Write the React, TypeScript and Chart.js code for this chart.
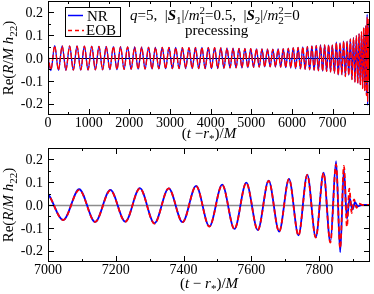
import React, { useEffect, useRef } from "react";
import { Chart, registerables } from "chart.js";

Chart.register(...registerables);

const SERIF = "'Liberation Serif', 'Times New Roman', Times, serif";

// ---------------- data (extrema of Re(R/M h22)) ----------------
const inspiralTimes = [
  0, 72, 165, 257, 349, 441, 532, 623, 714, 805,
  895, 985, 1075, 1165, 1254, 1343, 1432, 1520, 1608, 1696,
  1784, 1871, 1958, 2045, 2131, 2217, 2303, 2388, 2473, 2558,
  2642, 2726, 2810, 2893, 2976, 3059, 3141, 3223, 3305, 3386,
  3467, 3547, 3627, 3707, 3786, 3865, 3943, 4021, 4098, 4175,
  4251, 4327, 4402, 4477, 4551, 4625, 4698, 4771, 4843, 4915,
  4986, 5056, 5126, 5195, 5263, 5331, 5398, 5464, 5530, 5595,
  5659, 5723, 5786, 5848, 5910, 5971, 6032, 6092, 6151, 6209,
  6267, 6324, 6380, 6436, 6491, 6545, 6598, 6651, 6703, 6754,
  6804, 6853, 6902, 6950, 6992, 7045, 7092, 7139, 7184, 7228,
  7271, 7314, 7356, 7397, 7437, 7476, 7514, 7550, 7585, 7619,
  7651, 7682, 7711, 7739, 7765, 7790, 7813, 7833, 7850, 7862,
  7873,
];

const nrInspiral = [
  0.0, -0.055, 0.054, -0.054, 0.053, -0.054, 0.053, -0.053, 0.053, -0.053,
  0.052, -0.053, 0.052, -0.052, 0.051, -0.052, 0.051, -0.051, 0.05, -0.051,
  0.05, -0.05, 0.049, -0.05, 0.049, -0.049, 0.048, -0.049, 0.048, -0.048,
  0.047, -0.048, 0.047, -0.047, 0.046, -0.047, 0.046, -0.046, 0.045, -0.046,
  0.045, -0.046, 0.046, -0.047, 0.046, -0.047, 0.046, -0.046, 0.045, -0.046,
  0.044, -0.045, 0.043, -0.044, 0.043, -0.043, 0.042, -0.043, 0.042, -0.042,
  0.041, -0.041, 0.04, -0.04, 0.04, -0.039, 0.039, -0.039, 0.039, -0.039,
  0.04, -0.04, 0.041, -0.042, 0.043, -0.044, 0.045, -0.046, 0.047, -0.048,
  0.049, -0.05, 0.051, -0.052, 0.053, -0.054, 0.055, -0.056, 0.057, -0.058,
  0.058, -0.06, 0.058, -0.062, 0.057, -0.066, 0.069, -0.074, 0.066, -0.073,
  0.074, -0.08, 0.073, -0.075, 0.084, -0.094, 0.089, -0.105, 0.098, -0.11,
  0.107, -0.117, 0.115, -0.133, 0.133, -0.142, 0.142, -0.163, 0.192, -0.208,
  0.155,
];

const eobInspiral = [
  0.015, -0.05, 0.053, -0.053, 0.053, -0.053, 0.052, -0.053, 0.052, -0.052,
  0.052, -0.052, 0.051, -0.052, 0.051, -0.051, 0.05, -0.051, 0.05, -0.05,
  0.049, -0.05, 0.049, -0.049, 0.048, -0.049, 0.048, -0.048, 0.047, -0.048,
  0.047, -0.047, 0.046, -0.047, 0.046, -0.046, 0.045, -0.046, 0.045, -0.045,
  0.045, -0.046, 0.045, -0.046, 0.046, -0.046, 0.045, -0.046, 0.045, -0.045,
  0.044, -0.044, 0.043, -0.043, 0.042, -0.043, 0.042, -0.042, 0.041, -0.042,
  0.041, -0.041, 0.04, -0.04, 0.039, -0.039, 0.039, -0.038, 0.038, -0.039,
  0.039, -0.04, 0.04, -0.041, 0.042, -0.043, 0.044, -0.045, 0.046, -0.047,
  0.048, -0.049, 0.05, -0.051, 0.052, -0.053, 0.054, -0.055, 0.056, -0.057,
  0.057, -0.059, 0.057, -0.061, 0.056, -0.066, 0.066, -0.074, 0.064, -0.073,
  0.073, -0.082, 0.073, -0.075, 0.083, -0.095, 0.088, -0.106, 0.097, -0.111,
  0.106, -0.117, 0.114, -0.134, 0.132, -0.143, 0.14, -0.165, 0.178, -0.19,
  0.172,
];

const nrRingdownTimes = [7882, 7890, 7898, 7906, 7914, 7924, 7950];
const nrRingdownValues = [-0.06, 0.03, -0.02, 0.012, -0.006, 0.0, 0.0];
const eobRingdownTimes = [7882, 7889, 7896, 7903, 7910, 7918, 7928, 7950];
const eobRingdownValues = [-0.095, 0.072, -0.035, 0.025, -0.012, 0.006, 0.0, 0.0];

const seriesNames = ["NR", "EOB"];
const topXMajor = [0, 1000, 2000, 3000, 4000, 5000, 6000, 7000];
const topXMinor = [500, 1500, 2500, 3500, 4500, 5500, 6500, 7500];
const bottomXMajor = [7000, 7200, 7400, 7600, 7800];
const bottomXMinor = [7100, 7300, 7500, 7700, 7900];
const yMajor = [-0.2, -0.1, 0, 0.1, 0.2];
const yMinor = [-0.15, -0.05, 0.05, 0.15];

// ---------------- helpers ----------------
type Pt = { x: number; y: number };
function toPoints(times: number[], vals: number[], rdT: number[], rdV: number[]): Pt[] {
  const pts: Pt[] = times.map((t, i) => ({ x: t, y: vals[i] }));
  rdT.forEach((t, i) => pts.push({ x: t, y: rdV[i] }));
  return pts;
}

type Run = { t: string; s?: string; p?: "sub" | "sup"; stack?: boolean };

function richText(
  ctx: CanvasRenderingContext2D,
  runs: Run[],
  x: number,
  y: number,
  size: number,
  draw: boolean
): number {
  let cx = x;
  let lastX = x;
  let lastW = 0;
  for (const r of runs) {
    const fs = r.p ? Math.round(size * 0.7) : size;
    ctx.font = `${r.s ? r.s + " " : ""}${fs}px ${SERIF}`;
    const w = ctx.measureText(r.t).width;
    const dy = r.p === "sub" ? size * 0.28 : r.p === "sup" ? -size * 0.38 : 0;
    if (r.stack) {
      if (draw) ctx.fillText(r.t, lastX, y + dy);
      if (w > lastW) {
        cx += w - lastW;
        lastW = w;
      }
    } else {
      if (draw) ctx.fillText(r.t, cx, y + dy);
      lastX = cx;
      lastW = w;
      cx += w;
    }
  }
  return cx - x;
}

const yTitleRuns: Run[] = [
  { t: "Re(" },
  { t: "R", s: "italic" },
  { t: "/" },
  { t: "M", s: "italic" },
  { t: " " },
  { t: "h", s: "italic" },
  { t: "22", p: "sub" },
  { t: ")" },
];
const xTitleTop: Run[] = [
  { t: "(" },
  { t: "t", s: "italic" },
  { t: " \u2212" },
  { t: "r", s: "italic" },
  { t: "*", p: "sub" },
  { t: ")/" },
  { t: "M", s: "italic" },
];
const xTitleBottom: Run[] = [
  { t: "(" },
  { t: "t", s: "italic" },
  { t: " \u2212 " },
  { t: "r", s: "italic" },
  { t: "*", p: "sub" },
  { t: ")/" },
  { t: "M", s: "italic" },
];
const annotationRuns: Run[] = [
  { t: "q", s: "italic" },
  { t: "=5,  |" },
  { t: "S", s: "italic bold" },
  { t: "1", p: "sub" },
  { t: "|/" },
  { t: "m", s: "italic" },
  { t: "1", p: "sub" },
  { t: "2", p: "sup", stack: true },
  { t: "=0.5,  |" },
  { t: "S", s: "italic bold" },
  { t: "2", p: "sub" },
  { t: "|/" },
  { t: "m", s: "italic" },
  { t: "2", p: "sub" },
  { t: "2", p: "sup", stack: true },
  { t: "=0" },
];

type PanelCfg = {
  xMin: number;
  xMax: number;
  xMajor: number[];
  xMinor: number[];
  padTop: number;
  axisH: number;
  zeroColor: string;
  zeroW: number;
  lineW: number;
  dash: number[];
  xTitle: Run[];
  xTitleY: number;
  yTitleX: number;
  extras: boolean;
};

function makePanel(canvas: HTMLCanvasElement, cfg: PanelCfg): Chart {
  const nr = toPoints(inspiralTimes, nrInspiral, nrRingdownTimes, nrRingdownValues);
  const eob = toPoints(inspiralTimes, eobInspiral, eobRingdownTimes, eobRingdownValues);

  const panelPlugin = {
    id: "panelDecor",
    beforeDatasetsDraw(chart: any) {
      const { ctx, chartArea: a, scales } = chart;
      const y0 = Math.round(scales.y.getPixelForValue(0)) + 0.5;
      ctx.save();
      ctx.strokeStyle = cfg.zeroColor;
      ctx.lineWidth = cfg.zeroW;
      ctx.beginPath();
      ctx.moveTo(a.left, y0);
      ctx.lineTo(a.right, y0);
      ctx.stroke();
      ctx.restore();
    },
    afterDraw(chart: any) {
      const { ctx, chartArea: a, scales } = chart;
      const xs = scales.x;
      const ys = scales.y;
      ctx.save();
      ctx.strokeStyle = "#000";
      ctx.lineWidth = 1;
      ctx.setLineDash([]);
      ctx.strokeRect(a.left + 0.5, a.top + 0.5, a.right - a.left - 1, a.bottom - a.top - 1);
      ctx.beginPath();
      const xt = (vals: number[], len: number) => {
        vals.forEach((v) => {
          if (v < cfg.xMin || v > cfg.xMax) return;
          const px = Math.round(xs.getPixelForValue(v)) + 0.5;
          ctx.moveTo(px, a.bottom);
          ctx.lineTo(px, a.bottom - len);
          ctx.moveTo(px, a.top);
          ctx.lineTo(px, a.top + len);
        });
      };
      const yt = (vals: number[], len: number) => {
        vals.forEach((v) => {
          const py = Math.round(ys.getPixelForValue(v)) + 0.5;
          ctx.moveTo(a.left, py);
          ctx.lineTo(a.left + len, py);
          ctx.moveTo(a.right, py);
          ctx.lineTo(a.right - len, py);
        });
      };
      xt(cfg.xMajor, 6);
      xt(cfg.xMinor, 3);
      yt(yMajor, 6);
      yt(yMinor, 3);
      ctx.stroke();

      ctx.fillStyle = "#000";
      ctx.textBaseline = "alphabetic";
      // tick labels
      ctx.font = `14px ${SERIF}`;
      ctx.textAlign = "center";
      cfg.xMajor.forEach((v) => {
        ctx.fillText(String(v), xs.getPixelForValue(v), a.bottom + 12);
      });
      ctx.textAlign = "right";
      yMajor.forEach((v) => {
        ctx.fillText(v.toFixed(1), a.left - 5, ys.getPixelForValue(v) + 4.7);
      });
      ctx.textAlign = "left";
      // x title
      const wx = richText(ctx, cfg.xTitle, 0, 0, 15, false);
      richText(ctx, cfg.xTitle, (a.left + a.right) / 2 - wx / 2, cfg.xTitleY, 15, true);
      // y title (rotated)
      const wy = richText(ctx, yTitleRuns, 0, 0, 15, false);
      ctx.save();
      ctx.translate(cfg.yTitleX, (a.top + a.bottom) / 2);
      ctx.rotate(-Math.PI / 2);
      richText(ctx, yTitleRuns, -wy / 2, 0, 15, true);
      ctx.restore();

      if (cfg.extras) {
        // legend
        ctx.fillStyle = "#fff";
        ctx.fillRect(65, 7, 56, 30);
        ctx.strokeStyle = "#000";
        ctx.lineWidth = 1;
        ctx.strokeRect(65.5, 7.5, 55, 29);
        ctx.lineWidth = 1.5;
        ctx.strokeStyle = "#0000ff";
        ctx.beginPath();
        ctx.moveTo(68, 15.5);
        ctx.lineTo(83, 15.5);
        ctx.stroke();
        ctx.strokeStyle = "#ff0000";
        ctx.setLineDash([4, 3]);
        ctx.beginPath();
        ctx.moveTo(68, 30.5);
        ctx.lineTo(84, 30.5);
        ctx.stroke();
        ctx.setLineDash([]);
        ctx.fillStyle = "#000";
        ctx.font = `15px ${SERIF}`;
        ctx.fillText(seriesNames[0], 87, 20.5);
        ctx.fillText(seriesNames[1], 86, 35);
        // annotation
        richText(ctx, annotationRuns, 130, 20, 15, true);
        ctx.font = `15px ${SERIF}`;
        ctx.fillText("precessing", 185, 35);
      }
      ctx.restore();
    },
  };

  const zeroPad = (s: any) => {
    s.paddingLeft = 0;
    s.paddingRight = 0;
    s.paddingTop = 0;
    s.paddingBottom = 0;
  };

  return new Chart(canvas, {
    type: "line",
    data: {
      datasets: [
        {
          label: seriesNames[0],
          data: nr,
          order: 2,
          borderColor: "#0000ff",
          borderWidth: cfg.lineW,
          pointRadius: 0,
          fill: false,
          cubicInterpolationMode: "monotone",
        },
        {
          label: seriesNames[1],
          data: eob,
          order: 1,
          borderColor: "#ff0000",
          borderWidth: cfg.lineW,
          borderDash: cfg.dash,
          pointRadius: 0,
          fill: false,
          cubicInterpolationMode: "monotone",
        },
      ],
    },
    options: {
      animation: false,
      responsive: false,
      maintainAspectRatio: false,
      events: [],
      layout: { padding: { top: cfg.padTop, right: 4, left: 0, bottom: 0 } },
      plugins: { legend: { display: false }, tooltip: { enabled: false }, title: { display: false } },
      elements: { point: { radius: 0 } },
      scales: {
        x: {
          type: "linear",
          min: cfg.xMin,
          max: cfg.xMax,
          grid: { display: false, drawTicks: false },
          border: { display: false },
          ticks: { display: false },
          afterFit: (s: any) => {
            s.height = cfg.axisH;
            zeroPad(s);
          },
        },
        y: {
          type: "linear",
          min: -0.25,
          max: 0.25,
          grid: { display: false, drawTicks: false },
          border: { display: false },
          ticks: { display: false },
          afterFit: (s: any) => {
            s.width = 48;
            zeroPad(s);
          },
        },
      },
    } as any,
    plugins: [panelPlugin],
  });
}

const topCfg: PanelCfg = {
  xMin: 0,
  xMax: 7920,
  xMajor: topXMajor,
  xMinor: topXMinor,
  padTop: 1,
  axisH: 31,
  zeroColor: "#000",
  zeroW: 1,
  lineW: 1.3,
  dash: [6, 2],
  xTitle: xTitleTop,
  xTitleY: 138,
  yTitleX: 13,
  extras: true,
};

const bottomCfg: PanelCfg = {
  xMin: 7000,
  xMax: 7950,
  xMajor: bottomXMajor,
  xMinor: bottomXMinor,
  padTop: 2,
  axisH: 32,
  zeroColor: "#8c8c8c",
  zeroW: 1.5,
  lineW: 1.8,
  dash: [5, 3],
  xTitle: xTitleBottom,
  xTitleY: 142,
  yTitleX: 13,
  extras: false,
};

export default function App() {
  const topRef = useRef<HTMLCanvasElement>(null);
  const botRef = useRef<HTMLCanvasElement>(null);
  useEffect(() => {
    const c1 = makePanel(topRef.current as HTMLCanvasElement, topCfg);
    const c2 = makePanel(botRef.current as HTMLCanvasElement, bottomCfg);
    return () => {
      c1.destroy();
      c2.destroy();
    };
  }, []);
  return (
    <div style={{ position: "absolute", left: 0, top: 0, width: 374, height: 294, background: "#fff" }}>
      <canvas ref={topRef} width={374} height={146} style={{ display: "block", width: 374, height: 146 }} />
      <canvas ref={botRef} width={374} height={148} style={{ display: "block", width: 374, height: 148 }} />
    </div>
  );
}
